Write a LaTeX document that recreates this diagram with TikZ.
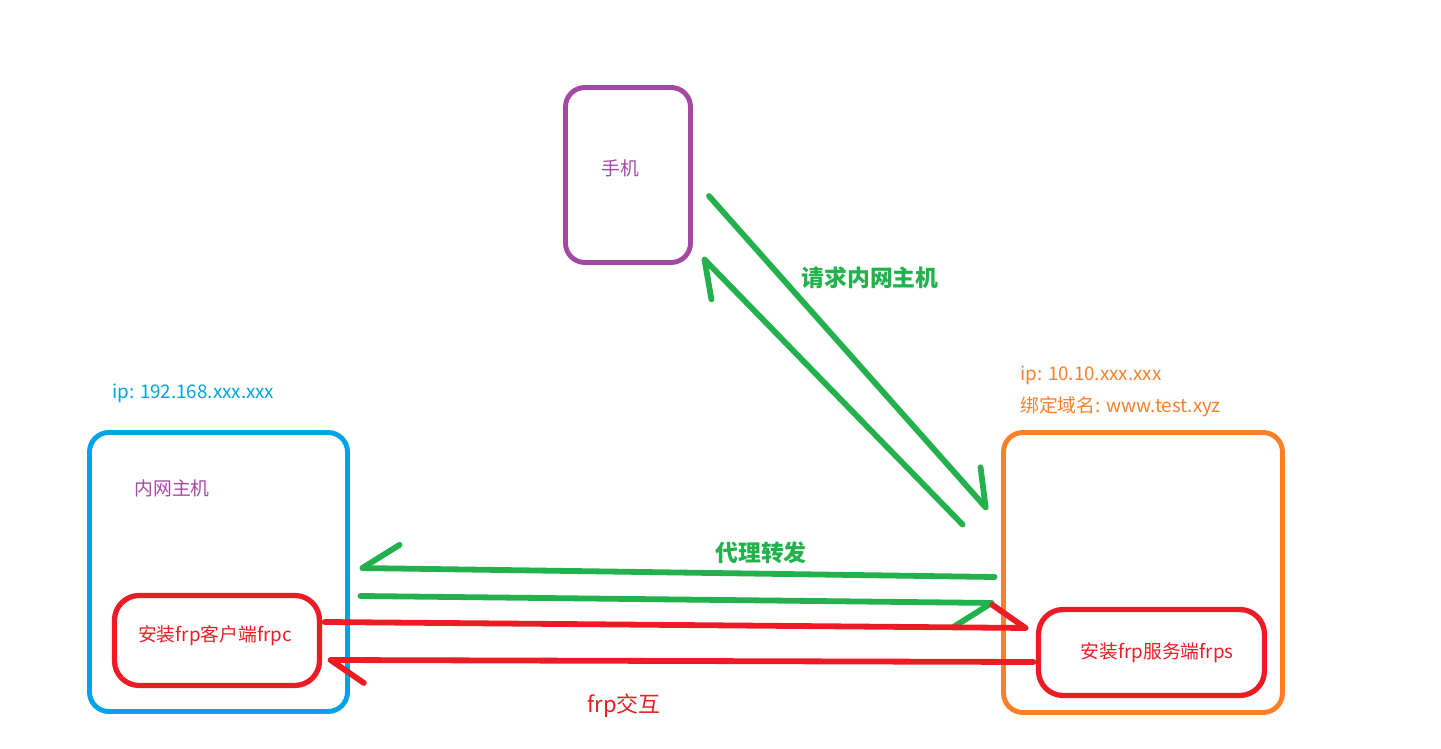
\documentclass[tikz,border=0pt]{standalone}
\usepackage{fontspec}
\setmainfont{Noto Sans CJK SC}
\usetikzlibrary{arrows.meta,calc}
\definecolor{PaintPurple}{HTML}{A349A4}
\definecolor{PaintBlue}{HTML}{00A2E8}
\definecolor{PaintRed}{HTML}{ED1C24}
\definecolor{PaintOrange}{HTML}{FF7F27}
\definecolor{PaintGreen}{HTML}{22B14C}
\tikzset{
  devbox/.style={draw=#1, line width=2.8pt, rounded corners=11pt, inner sep=0pt},
  appbox/.style={draw=PaintRed, line width=3pt, rounded corners=14pt, inner sep=0pt},
  small/.style={font=\fontsize{10.7pt}{12pt}\selectfont, inner sep=0pt},
  tag/.style={font=\fontsize{13pt}{15pt}\selectfont\bfseries, text=PaintGreen, inner sep=0pt},
  flow/.style={line width=3.3pt, line cap=round, line join=round, draw=#1},
  tipl/.style={-{Straight Barb[harpoon,round,length=19pt,width=26pt]}},
  tipr/.style={-{Straight Barb[harpoon,swap,round,length=21pt,width=27pt]}},
}

\begin{document}
\begin{tikzpicture}[x=0.02cm, y=-0.02cm]
  \useasboundingbox (0,0) rectangle (1441,749);

  % boxes
  \node[devbox=PaintPurple, minimum width=2.5cm, minimum height=3.5cm] (phone) at (628,175) {};
  \node[devbox=PaintBlue, minimum width=5.16cm, minimum height=5.58cm] (host) at (218.5,572) {};
  \node[devbox=PaintOrange, minimum width=5.58cm, minimum height=5.6cm] (server) at (1143,572.5) {};
  \node[appbox, minimum width=4.1cm, minimum height=1.8cm] (frpc) at (217,640.5) {};
  \node[appbox, minimum width=4.52cm, minimum height=1.72cm] (frps) at (1151.5,652.5) {};

  % texts
  \node[small, text=PaintPurple] (phonetxt) at (620,168) {手机};
  \node[small, text=PaintPurple] (hosttxt) at (172,488) {内网主机};
  \node[small, text=PaintRed] (frpctxt) at (215,636) {安装frp客户端frpc};
  \node[small, text=PaintRed] (frpstxt) at (1157,653) {安装frp服务端frps};
  \node[small, text=PaintBlue, anchor=west] (hostip) at (112,393) {ip: 192.168.xxx.xxx};
  \node[small, text=PaintOrange, anchor=west] (serverip) at (1020,375) {ip: 10.10.xxx.xxx};
  \node[small, text=PaintOrange, anchor=west] (domain) at (1020,407) {绑定域名: www.test.xyz};
  \node[tag] (reqtxt) at (870,278) {请求内网主机};
  \node[tag] (proxytxt) at (761,553) {代理转发};
  \node[font=\fontsize{12.5pt}{15pt}\selectfont, text=PaintRed, inner sep=0pt] (frptxt) at (624,706) {frp交互};

  % phone <-> server
  \draw[flow=PaintGreen, tipl] ($(phone.east)+(16,21)$) -- ($(server.north west)+(-13.5,79.5)$);
  \draw[flow=PaintGreen, tipl] ($(server.north west)+(-38.5,94.5)$) -- ($(phone.south east)+(9.5,-7.5)$);

  % proxy forwarding
  \draw[flow=PaintGreen, tipr] ($(server.west)+(-6.5,4.5)$) -- ($(host.east)+(9.5,-4)$);
  \draw[flow=PaintGreen, tipr] ($(host.east)+(10.5,24)$) -- ($(server.west)+(-6.5,30.5)$);

  % frp interaction
  \draw[flow=PaintRed, tipl] ($(frpc.east)+(2.5,-18.5)$) -- ($(frps.west)+(-7.5,-24.5)$);
  \draw[flow=PaintRed, tipl] ($(frps.west)+(-2.5,9.5)$) -- ($(frpc.east)+(5.5,19.5)$);

\end{tikzpicture}
\end{document}
